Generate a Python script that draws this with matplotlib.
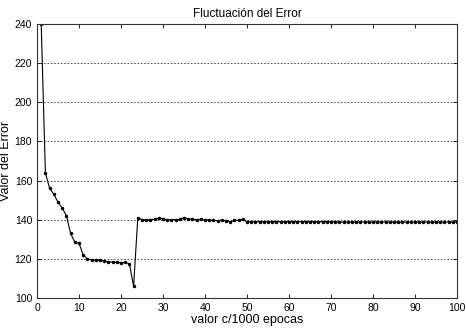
import matplotlib
matplotlib.use("Agg")
import matplotlib.pyplot as plt
import numpy as np

epochs = list(range(1, 101))
error = [240, 164, 156, 153, 149, 146, 142, 133, 128.5, 128,
         122, 120, 119.5, 119.3, 119.2, 119, 118.5, 118.3, 118.2, 118,
         118.2, 117.5, 106, 141, 140, 140, 140, 140.2, 140.8, 140.5,
         140, 140, 140, 140.2, 141, 140.5, 140.2, 140, 140.3, 139.8,
         140, 139.6, 139.5, 139.8, 139.5, 139, 139.6, 139.8, 140.3, 139,
         139, 139, 139, 139, 139, 139, 139, 139, 139, 139,
         139, 139, 139, 139, 139, 139, 139, 139, 139, 139,
         139, 138.8, 138.8, 138.8, 138.8, 138.8, 138.8, 138.8, 138.8, 138.8,
         138.8, 138.8, 138.8, 138.8, 138.8, 138.8, 138.8, 138.8, 138.8, 138.8,
         138.8, 138.8, 138.8, 138.8, 138.8, 138.8, 138.8, 138.8, 138.8, 138.8]
xticks = list(range(0, 101, 10))
yticks = list(range(100, 241, 20))

plt.rcParams['font.family'] = ['Liberation Sans', 'DejaVu Sans']
fig = plt.figure(figsize=(4.66, 3.31), dpi=100)
ax = fig.add_axes([0.0794, 0.0997, 0.9013, 0.8278])
ax.plot(epochs, error, color='black', linewidth=0.8, marker='.', markersize=3)
ax.set_xlim(0, 100)
ax.set_ylim(100, 240)
ax.set_xticks(xticks)
ax.set_yticks(yticks)
ax.yaxis.grid(True, linestyle=(0, (2, 2)), color='#333333', linewidth=0.6)
ax.tick_params(direction='in', top=True, right=True, labelsize=7.5, length=3, width=0.6)
for s in ax.spines.values():
    s.set_linewidth(0.8)
    s.set_color('#333333')
ax.set_title('Fluctuación del Error', fontsize=8.5, pad=5)
ax.set_xlabel('valor c/1000 epocas', fontsize=9, labelpad=1)
ax.set_ylabel('Valor del Error', fontsize=9, labelpad=2)
fig.savefig('out.png', dpi=100)
